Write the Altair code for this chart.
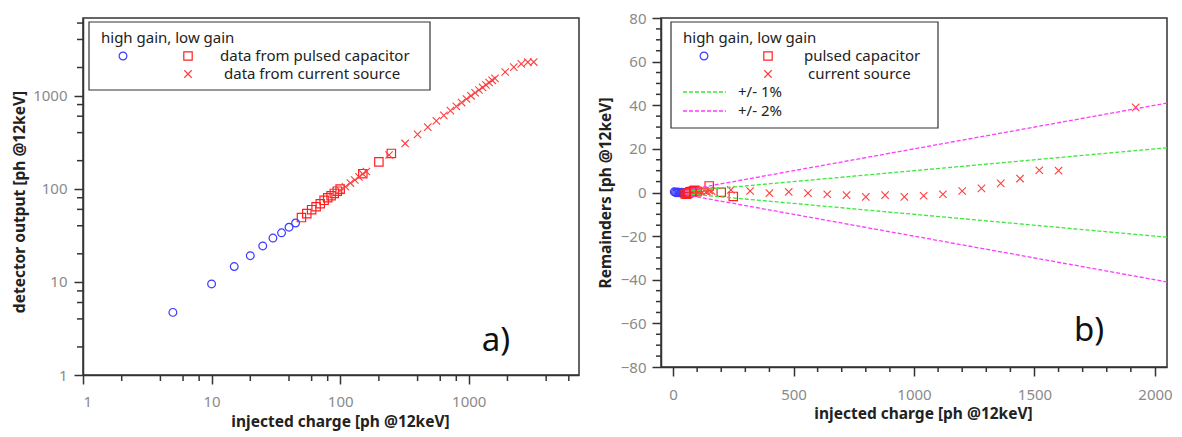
import altair as alt
import pandas as pd

# ---------------- data ----------------
hg_inj = [5, 10, 15, 20, 25, 30, 35, 40, 45]
hg_out = [4.7, 9.5, 14.6, 19.1, 24.3, 29.5, 33.6, 38.6, 42.8]
hg_rem = [0.3, 0.1, -0.1, 0.2, 0.0, -0.2, 0.1, 0.0, -0.1]

pc_inj = [50, 55, 60, 65, 70, 75, 80, 85, 90, 95, 100, 150, 200, 250]
pc_out = [49, 54, 59.5, 64, 69, 75, 80, 84, 89, 94, 99, 145, 194, 239]
pc_rem = [-0.6, -0.8, -0.4, -0.2, 0.3, 0.5, 0.2, 0.8, 1.0, 0.6, 0.4, 3.0, 0.1, -1.8]

cs_inj = [100, 110, 120, 130, 140, 150, 160, 240, 320, 400, 480, 560, 640, 720,
          800, 880, 960, 1040, 1120, 1200, 1280, 1360, 1440, 1520, 1600, 1920,
          2240, 2560, 2880, 3200]
cs_out = [96, 105, 115, 124, 134, 144, 153, 230, 306, 383, 458, 535, 612, 688,
          764, 841, 918, 994, 1071, 1147, 1224, 1302, 1380, 1458, 1530, 1790,
          2020, 2190, 2280, 2290]
cs_rem_inj = [100, 110, 120, 130, 140, 150, 160, 240, 320, 400, 480, 560, 640, 720,
              800, 880, 960, 1040, 1120, 1200, 1280, 1360, 1440, 1520, 1600, 1920]
cs_rem = [0.4, 0.6, 0.2, 0.8, 0.5, 0.9, 0.6, 1.2, 0.7, -0.3, 0.3, -0.3, -0.8, -1.2,
          -2.0, -1.2, -2.0, -1.5, -0.8, 0.7, 1.9, 4.2, 6.4, 10.2, 10.0, 39.0]

band_inj = [50, 2050]
band1_hi = [0.5, 20.5]
band1_lo = [-0.5, -20.5]
band2_hi = [1.0, 41.0]
band2_lo = [-1.0, -41.0]

# tick values
log_major = [1, 10, 100, 1000]
log_minor = [2, 4, 6, 8, 20, 40, 60, 80, 200, 400, 600, 800, 2000, 4000, 6000]
lin_x_major = [0, 500, 1000, 1500, 2000]
lin_x_minor = [100, 200, 300, 400, 600, 700, 800, 900, 1100, 1200, 1300, 1400,
               1600, 1700, 1800, 1900]
lin_y_major = [-80, -60, -40, -20, 0, 20, 40, 60, 80]
lin_y_minor = [-75, -70, -65, -55, -50, -45, -35, -30, -25, -15, -10, -5,
               5, 10, 15, 25, 30, 35, 45, 50, 55, 65, 70, 75]

# ---------------- style ----------------
FONT = "Noto Sans"
BLUE = "#3b3bff"
RED = "#ff1f1f"
XRED = "#ff3d3d"
GREEN = "#3be83b"
PINK = "#ff3bff"
AX = "#333333"
XSHAPE = "M-1,-1L1,1M-1,1L1,-1"

LW, LH = 496, 357
RW, RH = 506, 349

one = pd.DataFrame({"k": [0]})

df_hg = pd.DataFrame({"inj": hg_inj, "out": hg_out, "rem": hg_rem})
df_pc = pd.DataFrame({"inj": pc_inj, "out": pc_out, "rem": pc_rem})
df_cs = pd.DataFrame({"inj": cs_inj, "out": cs_out})
df_csr = pd.DataFrame({"inj": cs_rem_inj, "rem": cs_rem})
df_band = pd.DataFrame({"inj": band_inj, "g_hi": band1_hi, "g_lo": band1_lo,
                        "p_hi": band2_hi, "p_lo": band2_lo})

XT = "injected charge [ph @12keV]"

# ================= left panel =================
lx = alt.Scale(type="log", domain=[1, 7200])
ly = alt.Scale(type="log", domain=[1, 6800])

x_axis_l = alt.Axis(values=log_major, format="d", title=XT, tickSize=9,
                    labelPadding=10, titlePadding=5, titleX=LW / 2 + 9, grid=False)
y_axis_l = alt.Axis(values=log_major, format="d", title="detector output [ph @12keV]",
                    tickSize=9, labelPadding=7, titlePadding=5, titleY=LH / 2 + 5,
                    grid=False)


def pts(df, shape, color, size, yfield, xs, ys, xaxis, yaxis, sw=1.2):
    return alt.Chart(df).mark_point(shape=shape, filled=False, size=size,
                                    color=color, strokeWidth=sw, opacity=1).encode(
        x=alt.X("inj:Q", scale=xs, axis=xaxis),
        y=alt.Y(f"{yfield}:Q", scale=ys, axis=yaxis),
    )


def text(t, x, y, size=15, align="left", color="#222222"):
    return alt.Chart(one).mark_text(text=t, align=align, baseline="middle", font=FONT,
                                    fontSize=size, color=color).encode(
        x=alt.value(x), y=alt.value(y))


def sym(shape, color, size, x, y):
    return alt.Chart(one).mark_point(shape=shape, filled=False, size=size, color=color,
                                     strokeWidth=1.2, opacity=1).encode(
        x=alt.value(x), y=alt.value(y))


def box(x1, x2, y1, y2):
    return alt.Chart(one).mark_rect(fill="white", stroke=AX, strokeWidth=1.2).encode(
        x=alt.value(x1), x2=alt.value(x2), y=alt.value(y1), y2=alt.value(y2))


def xminor(vals, xs, xaxis, h, length):
    return alt.Chart(pd.DataFrame({"inj": vals})).mark_rule(color=AX, strokeWidth=1.5).encode(
        x=alt.X("inj:Q", scale=xs, axis=xaxis), y=alt.value(h), y2=alt.value(h + length))


def yminor(vals, ys, yaxis, field, length):
    return alt.Chart(pd.DataFrame({field: vals})).mark_rule(color=AX, strokeWidth=1.5).encode(
        y=alt.Y(f"{field}:Q", scale=ys, axis=yaxis), x=alt.value(-length), x2=alt.value(0))


left = alt.layer(
    pts(df_hg, "circle", BLUE, 60, "out", lx, ly, x_axis_l, y_axis_l),
    pts(df_pc, "square", RED, 70, "out", lx, ly, x_axis_l, y_axis_l),
    pts(df_cs, XSHAPE, XRED, 55, "out", lx, ly, x_axis_l, y_axis_l, sw=1.1),
    xminor(log_minor, lx, x_axis_l, LH, 6),
    yminor(log_minor, ly, y_axis_l, "out", 6),
    box(6, 347, 4, 72),
    text("high gain, low gain", 18, 20),
    sym("circle", BLUE, 60, 40, 38),
    sym("square", RED, 70, 105, 38),
    text("data from pulsed capacitor", 137, 38),
    sym(XSHAPE, XRED, 55, 105, 56),
    text("data from current source", 141, 56),
    text("a)", 413, LH - 34, size=33, align="center", color="#111111"),
).properties(width=LW, height=LH)

# ================= right panel =================
rx = alt.Scale(domain=[-50, 2050], nice=False, zero=False)
ry = alt.Scale(domain=[-80, 80], nice=False)

x_axis_r = alt.Axis(values=lin_x_major, format="d", title=XT, tickSize=9,
                    labelPadding=11, titlePadding=4, titleX=RW / 2 + 9, grid=False)
y_axis_r = alt.Axis(values=lin_y_major, format="d", title="Remainders [ph @12keV]",
                    tickSize=9, labelPadding=6, titlePadding=7, grid=False)


def bandline(field, color):
    d = df_band[["inj", field]].rename(columns={field: "rem"})
    return alt.Chart(d).mark_line(color=color, strokeWidth=1.3,
                                  strokeDash=[4, 2]).encode(
        x=alt.X("inj:Q", scale=rx, axis=x_axis_r),
        y=alt.Y("rem:Q", scale=ry, axis=y_axis_r))


right = alt.layer(
    pts(df_hg, "circle", BLUE, 60, "rem", rx, ry, x_axis_r, y_axis_r),
    pts(df_pc, "square", RED, 70, "rem", rx, ry, x_axis_r, y_axis_r),
    pts(df_csr, XSHAPE, XRED, 55, "rem", rx, ry, x_axis_r, y_axis_r, sw=1.1),
    bandline("g_hi", GREEN),
    bandline("g_lo", GREEN),
    bandline("p_hi", PINK),
    bandline("p_lo", PINK),
    xminor(lin_x_minor, rx, x_axis_r, RH, 5),
    yminor(lin_y_minor, ry, y_axis_r, "rem", 5),
    box(10, 277, 4, 110),
    text("high gain, low gain", 22, 20),
    sym("circle", BLUE, 60, 43, 38),
    sym("square", RED, 70, 107, 38),
    text("pulsed capacitor", 143, 38),
    sym(XSHAPE, XRED, 55, 107, 56),
    text("current source", 147, 56),
    alt.Chart(one).mark_rule(color=GREEN, strokeWidth=1.3, strokeDash=[4, 2]).encode(
        x=alt.value(22), x2=alt.value(65), y=alt.value(74)),
    text("+/- 1%", 77, 74),
    alt.Chart(one).mark_rule(color=PINK, strokeWidth=1.3, strokeDash=[4, 2]).encode(
        x=alt.value(22), x2=alt.value(65), y=alt.value(93)),
    text("+/- 2%", 77, 93),
    text("b)", 428, RH - 36, size=33, align="center", color="#111111"),
).properties(width=RW, height=RH)

chart = alt.hconcat(left, right, spacing=82, bounds="flush").properties(
    padding={"left": 3, "top": 2, "right": 0, "bottom": 0}
).configure_view(
    stroke=AX, strokeWidth=1.5
).configure_axis(
    domainColor=AX, domainWidth=1.5, tickColor=AX, tickWidth=1.5,
    labelColor="#8a8a8a", labelFont=FONT, labelFontSize=15,
    titleFont=FONT, titleFontSize=15.5, titleFontWeight="bold", titleColor="#222222",
)

chart.save("out.html", embed_options={"renderer": "svg", "actions": False})
